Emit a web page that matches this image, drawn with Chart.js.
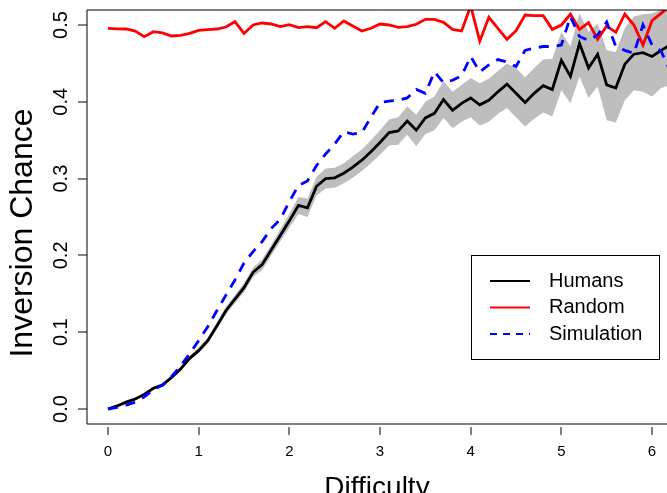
<!DOCTYPE html>
<html>
<head>
<meta charset="utf-8">
<script src="https://cdn.jsdelivr.net/npm/chart.js@4/dist/chart.umd.min.js"></script>
<style>
  html, body { margin: 0; padding: 0; background: #fff; }
  #wrap { width: 667px; height: 493px; }
</style>
</head>
<body>
<div id="wrap"><canvas id="c" width="667" height="493"></canvas></div>
<script>
// difficulty grid (x) and the three curves + the grey band around Humans
const difficulty = [
  0.0, 0.1, 0.2, 0.3, 0.4, 0.5, 0.6, 0.7, 0.8, 0.9,
  1.0, 1.1, 1.2, 1.3, 1.4, 1.5, 1.6, 1.7, 1.8, 1.9,
  2.0, 2.1, 2.2, 2.3, 2.4, 2.5, 2.6, 2.7, 2.8, 2.9,
  3.0, 3.1, 3.2, 3.3, 3.4, 3.5, 3.6, 3.7, 3.8, 3.9,
  4.0, 4.1, 4.2, 4.3, 4.4, 4.5, 4.6, 4.7, 4.8, 4.9,
  5.0, 5.1, 5.2, 5.3, 5.4, 5.5, 5.6, 5.7, 5.8, 5.9,
  6.0, 6.1, 6.2
];
const humans = [
  0, 0.004, 0.009, 0.013, 0.019, 0.027, 0.031, 0.041, 0.052, 0.066,
  0.076, 0.089, 0.108, 0.128, 0.143, 0.158, 0.178, 0.188, 0.207, 0.226,
  0.245, 0.265, 0.262, 0.290, 0.300, 0.301, 0.307, 0.315, 0.324, 0.335,
  0.347, 0.360, 0.362, 0.375, 0.363, 0.379, 0.385, 0.403, 0.389, 0.398,
  0.405, 0.396, 0.402, 0.413, 0.423, 0.411, 0.399, 0.411, 0.421, 0.416,
  0.454, 0.433, 0.476, 0.444, 0.462, 0.422, 0.418, 0.449, 0.462, 0.464,
  0.459, 0.467, 0.474
];
const humansLow = [
  0.000, 0.003, 0.007, 0.011, 0.017, 0.025, 0.029, 0.038, 0.049, 0.063,
  0.073, 0.085, 0.104, 0.123, 0.138, 0.152, 0.172, 0.181, 0.200, 0.218,
  0.236, 0.254, 0.250, 0.278, 0.287, 0.288, 0.294, 0.301, 0.310, 0.320,
  0.331, 0.343, 0.344, 0.357, 0.342, 0.358, 0.363, 0.379, 0.366, 0.374,
  0.380, 0.369, 0.374, 0.384, 0.392, 0.380, 0.368, 0.378, 0.386, 0.381,
  0.415, 0.398, 0.433, 0.405, 0.420, 0.376, 0.373, 0.402, 0.415, 0.413,
  0.407, 0.418, 0.422
];
const humansHigh = [
  0.001, 0.005, 0.011, 0.015, 0.021, 0.029, 0.034, 0.044, 0.055, 0.069,
  0.080, 0.093, 0.112, 0.133, 0.148, 0.164, 0.184, 0.195, 0.214, 0.234,
  0.254, 0.276, 0.274, 0.302, 0.313, 0.314, 0.320, 0.329, 0.338, 0.350,
  0.363, 0.377, 0.380, 0.394, 0.383, 0.400, 0.407, 0.427, 0.413, 0.422,
  0.431, 0.424, 0.430, 0.440, 0.450, 0.444, 0.432, 0.444, 0.455, 0.456,
  0.491, 0.472, 0.515, 0.491, 0.502, 0.467, 0.465, 0.496, 0.511, 0.514,
  0.515, 0.520, 0.525
];
const random = [
  0.4957, 0.4950, 0.4948, 0.4920, 0.4848, 0.4913, 0.4896, 0.4857, 0.4865, 0.4890,
  0.4930, 0.4939, 0.4948, 0.4974, 0.5043, 0.4890, 0.5000, 0.5026, 0.5013, 0.4980,
  0.5005, 0.4965, 0.4978, 0.4965, 0.5043, 0.4957, 0.5052, 0.4987, 0.4922, 0.4957,
  0.5013, 0.5000, 0.4970, 0.4978, 0.5009, 0.5074, 0.5074, 0.5035, 0.4943, 0.4922,
  0.5250, 0.4790, 0.5100, 0.4957, 0.4813, 0.4926, 0.5130, 0.5121, 0.5121, 0.4943,
  0.5000, 0.5140, 0.4943, 0.5030, 0.4813, 0.4987, 0.4905, 0.5143, 0.5000, 0.4740,
  0.5056, 0.5152, 0.5250
];
const simulation = [
  0, 0.002, 0.005, 0.009, 0.016, 0.025, 0.031, 0.042, 0.056, 0.072,
  0.089, 0.107, 0.128, 0.148, 0.168, 0.190, 0.205, 0.218, 0.235, 0.247,
  0.270, 0.291, 0.297, 0.317, 0.332, 0.345, 0.361, 0.358, 0.360, 0.380,
  0.399, 0.401, 0.402, 0.405, 0.416, 0.411, 0.439, 0.425, 0.428, 0.434,
  0.459, 0.439, 0.448, 0.455, 0.452, 0.446, 0.467, 0.470, 0.472, 0.472,
  0.474, 0.511, 0.485, 0.480, 0.487, 0.504, 0.472, 0.467, 0.463, 0.500,
  0.474, 0.466, 0.440
];
const xTicks = [0, 1, 2, 3, 4, 5, 6];
const yTicks = [0, 0.1, 0.2, 0.3, 0.4, 0.5];
const yTickLabels = ['0.0', '0.1', '0.2', '0.3', '0.4', '0.5'];

const FONT = "'Liberation Sans', Arial, sans-serif";
const pts = (ys) => difficulty.map((x, i) => ({ x, y: ys[i] }));

// R-ish frame: box, tick marks, rotated y labels, y title, legend
const rFrame = {
  id: 'rFrame',
  afterDraw(chart) {
    const { ctx, chartArea: a, scales: { x, y } } = chart;
    ctx.save();
    ctx.strokeStyle = '#000';
    ctx.lineWidth = 1;
    ctx.beginPath();
    ctx.moveTo(a.right + 5, a.top);
    ctx.lineTo(a.left, a.top);
    ctx.lineTo(a.left, a.bottom);
    ctx.lineTo(a.right + 5, a.bottom);
    ctx.stroke();

    ctx.beginPath();
    xTicks.forEach(v => {
      const px = Math.round(x.getPixelForValue(v));
      ctx.moveTo(px, a.bottom + 3);
      ctx.lineTo(px, a.bottom + 11);
    });
    yTicks.forEach(v => {
      const py = Math.round(y.getPixelForValue(v));
      ctx.moveTo(a.left - 9, py);
      ctx.lineTo(a.left, py);
    });
    ctx.stroke();

    ctx.fillStyle = '#000';
    ctx.textAlign = 'center';
    ctx.textBaseline = 'middle';
    ctx.font = '20px ' + FONT;
    yTicks.forEach((v, i) => {
      ctx.save();
      ctx.translate(61.5, y.getPixelForValue(v));
      ctx.rotate(-Math.PI / 2);
      ctx.fillText(yTickLabels[i], 0, 0);
      ctx.restore();
    });
    ctx.save();
    ctx.font = '32px ' + FONT;
    ctx.translate(23, 233);
    ctx.rotate(-Math.PI / 2);
    ctx.fillText('Inversion Chance', 0, 0);
    ctx.restore();

    // legend
    const lx = 471, ly = 255, lw = 188, lh = 104;
    ctx.fillStyle = '#fff';
    ctx.fillRect(lx, ly, lw, lh);
    ctx.strokeStyle = '#000';
    ctx.lineWidth = 1;
    ctx.strokeRect(lx + 0.5, ly + 0.5, lw, lh);
    const items = chart.data.datasets.filter(d => d.inLegend);
    items.forEach((d, i) => {
      const yy = 281 + i * 26.5;
      ctx.beginPath();
      ctx.strokeStyle = d.borderColor;
      ctx.lineWidth = 2;
      ctx.setLineDash(d.borderDash && d.borderDash.length ? [7, 6] : []);
      ctx.moveTo(490, yy);
      ctx.lineTo(530, yy);
      ctx.stroke();
      ctx.setLineDash([]);
      ctx.fillStyle = '#000';
      ctx.textAlign = 'left';
      ctx.font = '20px ' + FONT;
      ctx.fillText(d.label, 549, yy);
    });
    ctx.restore();
  }
};

new Chart(document.getElementById('c'), {
  type: 'line',
  data: {
    datasets: [
      { label: 'low', data: pts(humansLow), borderWidth: 0, pointRadius: 0, fill: false, order: 4, clip: 0 },
      { label: 'high', data: pts(humansHigh), borderWidth: 0, pointRadius: 0, fill: '-1',
        backgroundColor: '#BEBEBE', order: 3, clip: 0 },
      { label: 'Humans', inLegend: true, data: pts(humans), borderColor: '#000000', borderWidth: 2.8,
        pointRadius: 0, tension: 0, fill: false, order: 2, clip: 0 },
      { label: 'Random', inLegend: true, data: pts(random), borderColor: '#FF0000', borderWidth: 2.8,
        pointRadius: 0, tension: 0, fill: false, order: 1, clip: 0 },
      { label: 'Simulation', inLegend: true, data: pts(simulation), borderColor: '#0000FF', borderWidth: 2.8,
        borderDash: [10, 8], pointRadius: 0, tension: 0, fill: false, order: 0, clip: 0 }
    ]
  },
  options: {
    responsive: false,
    animation: false,
    devicePixelRatio: 1,
    layout: { padding: { top: 10, right: 0, left: 0, bottom: 0 } },
    plugins: { legend: { display: false }, tooltip: { enabled: false } },
    scales: {
      x: {
        type: 'linear',
        min: -0.2316,
        max: 6.165,
        afterBuildTicks: s => { s.ticks = xTicks.map(v => ({ value: v })); },
        afterFit: s => { s.height = 69; s.paddingLeft = 0; s.paddingRight = 0; },
        grid: { display: false, drawTicks: false },
        border: { display: false },
        ticks: { color: '#000', font: { size: 15, family: FONT }, padding: 19, maxRotation: 0,
          callback: v => String(v) },
        title: { display: true, text: 'Difficulty', color: '#000',
          font: { size: 28, family: FONT }, padding: { top: 0, bottom: -12 } }
      },
      y: {
        type: 'linear',
        min: -0.01953,
        max: 0.51953,
        afterBuildTicks: s => { s.ticks = yTicks.map(v => ({ value: v })); },
        afterFit: s => { s.width = 87; },
        grid: { display: false, drawTicks: false },
        border: { display: false },
        ticks: { display: false }
      }
    }
  },
  plugins: [rFrame]
});
</script>
</body>
</html>
